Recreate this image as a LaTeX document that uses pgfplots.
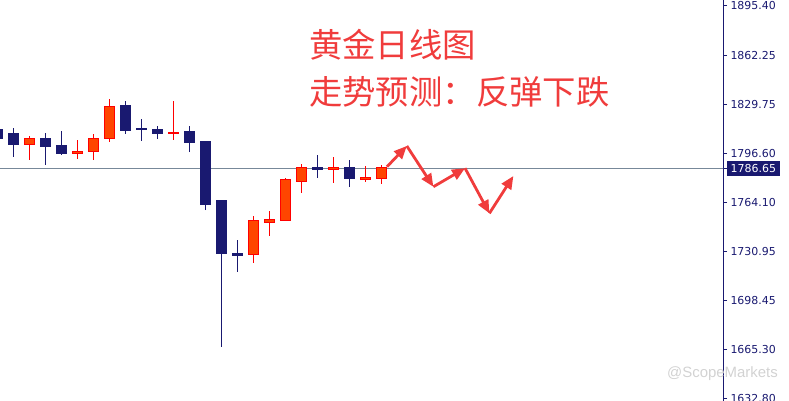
\documentclass[border=0pt]{standalone}
\usepackage{fontspec}
\setmainfont{DejaVu Sans}
\newfontfamily\cjk{Noto Sans CJK SC}
\newfontfamily\wmfont{Liberation Sans}
\usepackage{pgfplots}
\pgfplotsset{compat=1.18}
\usetikzlibrary{arrows.meta}
\definecolor{navy}{RGB}{25,25,112}
\definecolor{bullfill}{RGB}{255,69,0}
\definecolor{bullred}{RGB}{255,0,0}
\definecolor{arrowred}{RGB}{240,60,60}
\definecolor{pricegray}{RGB}{119,136,153}
\definecolor{wmgray}{RGB}{210,210,210}
\pgfplotsset{
  bearwick/.style={draw=navy, line width=1bp},
  bearbody/.style={draw=navy, fill=navy, line width=1bp},
  bullwick/.style={draw=bullred, line width=1bp},
  bullbody/.style={draw=bullred, fill=bullfill, line width=1bp},
}
% index, open, high, low, close, type
\newcommand{\candle}[6]{%
  \pgfmathsetmacro\xl{#1-0.305}\pgfmathsetmacro\xr{#1+0.305}%
  \edef\candletemp{\noexpand\addplot[#6wick] coordinates {(#1,#4) (#1,#3)};
    \noexpand\addplot[#6body] coordinates {(\xl,#2) (\xr,#2) (\xr,#5) (\xl,#5)} -- cycle;}%
  \candletemp}
\begin{document}
\begin{tikzpicture}
\begin{axis}[
  scale only axis, width=723bp, height=401bp,
  xmin=0.156, xmax=45.34, ymin=1631.0, ymax=1899.4,
  axis x line=none, axis y line*=right,
  y axis line style={draw=navy, line width=1bp},
  xtick=\empty,
  ytick={1632.80,1665.30,1698.45,1730.95,1764.10,1796.60,1829.75,1862.25,1895.40},
  tick align=outside, major tick length=4bp,
  ytick style={draw=navy, line width=1bp},
  /pgf/number format/fixed, /pgf/number format/fixed zerofill, /pgf/number format/precision=2, /pgf/number format/1000 sep={}, /pgf/number format/assume math mode=true,
  yticklabel style={font=\fontsize{11}{13}\selectfont, text=navy},
  extra y ticks={1786.65},
  extra y tick style={yticklabel style={fill=navy, text=white, inner xsep=3.5bp, inner ysep=3bp}},
  clip mode=individual,
]
\addplot[pricegray, line width=1bp] coordinates {(0,1786.65) (46,1786.65)};
\candle{0}{1812.4}{1814.4}{1804.4}{1806.6}{bear}
\candle{1}{1810.2}{1813.7}{1794.5}{1802.6}{bear}
\candle{2}{1802.8}{1808.4}{1792.5}{1807.0}{bull}
\candle{3}{1807.0}{1810.4}{1789.2}{1801.2}{bear}
\candle{4}{1801.7}{1811.7}{1795.7}{1796.5}{bear}
\candle{5}{1796.5}{1805.7}{1793.0}{1798.3}{bull}
\candle{6}{1798.1}{1809.7}{1792.5}{1806.4}{bull}
\candle{7}{1806.8}{1833.2}{1804.6}{1828.3}{bull}
\candle{8}{1828.5}{1831.8}{1809.9}{1811.9}{bear}
\candle{9}{1813.7}{1819.8}{1805.2}{1812.6}{bear}
\candle{10}{1812.4}{1815.1}{1806.6}{1809.9}{bear}
\candle{11}{1809.9}{1831.8}{1805.9}{1811.0}{bull}
\candle{12}{1811.7}{1815.1}{1797.5}{1803.9}{bear}
\candle{13}{1804.4}{1805.0}{1758.8}{1762.4}{bear}
\candle{14}{1764.9}{1765.0}{1667.3}{1729.6}{bear}
\candle{15}{1729.4}{1738.8}{1717.5}{1728.2}{bear}
\candle{16}{1728.9}{1754.8}{1723.6}{1751.5}{bull}
\candle{17}{1750.3}{1758.2}{1741.6}{1752.8}{bull}
\candle{18}{1752.0}{1780.3}{1752.0}{1779.4}{bull}
\candle{19}{1777.8}{1789.6}{1770.4}{1787.4}{bull}
\candle{20}{1787.6}{1795.7}{1780.5}{1786.1}{bear}
\candle{21}{1786.1}{1794.5}{1777.1}{1787.6}{bull}
\candle{22}{1787.0}{1792.3}{1774.4}{1779.8}{bear}
\candle{23}{1779.1}{1788.5}{1777.8}{1780.9}{bull}
\candle{24}{1779.8}{1789.0}{1776.5}{1787.0}{bull}
% forecast arrows
\addplot[arrowred, line width=2.8bp, -{Triangle[length=13bp,width=11bp]}] coordinates {(24.34,1787.8) (25.58,1801.7)};
\addplot[arrowred, line width=2.8bp, -{Triangle[length=13bp,width=11bp]}] coordinates {(25.58,1801.7) (27.24,1774.4)};
\addplot[arrowred, line width=2.8bp, -{Triangle[length=13bp,width=11bp]}] coordinates {(27.24,1774.4) (29.22,1786.8)};
\addplot[arrowred, line width=2.8bp, -{Triangle[length=13bp,width=11bp]}] coordinates {(29.22,1786.8) (30.74,1756.6)};
\addplot[arrowred, line width=2.8bp, -{Triangle[length=13bp,width=11bp]}] coordinates {(30.74,1756.6) (32.24,1781.6)};
\node[anchor=base west, inner sep=0pt, text=arrowred, font=\cjk\fontsize{33.5}{40}\selectfont] at (rel axis cs:0.4274,0.8566) {黄金日线图};
\node[anchor=base west, inner sep=0pt, text=arrowred, font=\cjk\fontsize{33.5}{40}\selectfont] at (rel axis cs:0.4274,0.7406) {走势预测：反弹下跌};
\node[anchor=base west, inner sep=0pt, text=wmgray, font=\wmfont\fontsize{15}{18}\selectfont] at (rel axis cs:0.9225,0.0586) {@ScopeMarkets};
\end{axis}
\pgfresetboundingbox
\path (0,0) rectangle (789bp,401bp);
\end{tikzpicture}
\end{document}
